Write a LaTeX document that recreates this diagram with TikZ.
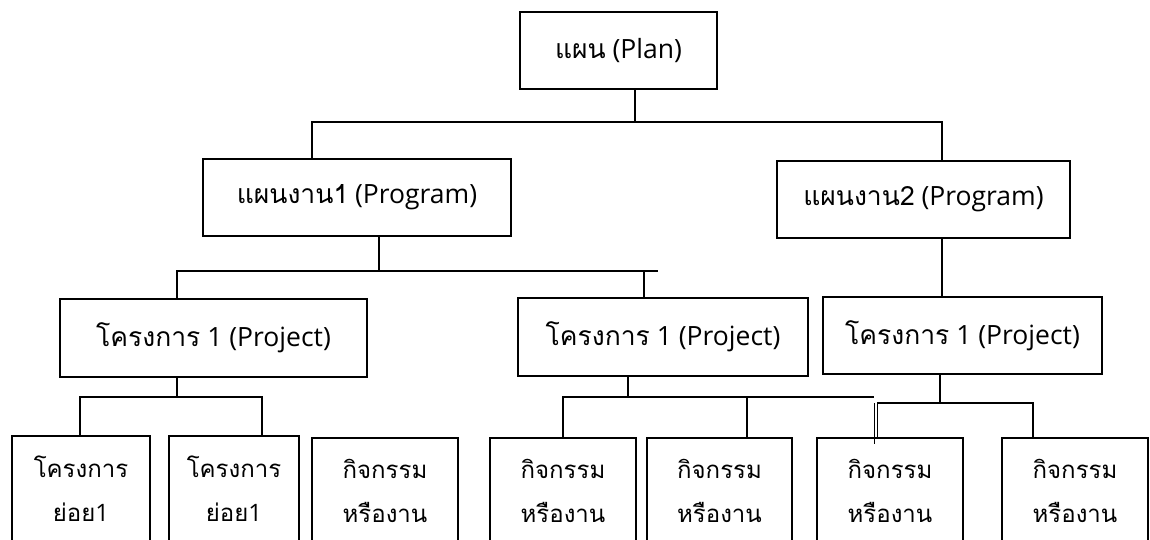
\documentclass[tikz,border=0pt]{standalone}
\usepackage{fontspec}
\setmainfont{Open Sans}
\newfontfamily\thaifont[Script=Thai]{Loma}
\newcommand\tha[1]{{\thaifont #1}}

\begin{document}
\begin{tikzpicture}[x=1pt,y=-1pt,line width=1.8pt,
  unit/.style={draw,rectangle,inner sep=0pt,minimum height=77pt,
    font=\fontsize{26.5}{30}\selectfont},
  leaf/.style={draw,rectangle,inner sep=0pt,minimum height=106pt,
    minimum width=146pt,align=center,font=\fontsize{24}{44}\selectfont}]
\clip (0,0) rectangle (1150,540);
\fill[white] (0,0) rectangle (1150,540);

% top level
\node[unit,minimum width=197pt] (plan) at (618.5,50.5) {\tha{แผน} (Plan)};

% programs
\node[unit,minimum width=308pt] (prog1) at (357,197.5) {\tha{แผนงาน1} (Program)};
\node[unit,minimum width=293pt] (prog2) at (923.5,199.5) {\tha{แผนงาน2} (Program)};

% projects
\node[unit,minimum width=307pt,minimum height=78pt] (proj1) at (213.5,338) {\tha{โครงการ} 1 (Project)};
\node[unit,minimum width=290pt,minimum height=78pt] (proj2) at (663,337) {\tha{โครงการ} 1 (Project)};
\node[unit,minimum width=279pt] (proj3) at (962.5,335.5) {\tha{โครงการ} 1 (Project)};

% sub-projects and activities
\node[leaf,minimum width=138pt,anchor=north] (l1) at (81,435) {\tha{โครงการ}\\\tha{ย่อย}1};
\node[leaf,minimum width=130pt,anchor=north] (l2) at (234,435) {\tha{โครงการ}\\\tha{ย่อย}1};
\node[leaf,anchor=north] (l3) at (385,437) {\tha{กิจกรรม}\\\tha{หรืองาน}};
\node[leaf,anchor=north] (l4) at (563,437) {\tha{กิจกรรม}\\\tha{หรืองาน}};
\node[leaf,minimum width=145pt,anchor=north] (l5) at (719.5,437) {\tha{กิจกรรม}\\\tha{หรืองาน}};
\node[leaf,anchor=north] (l6) at (890,437) {\tha{กิจกรรม}\\\tha{หรืองาน}};
\node[leaf,anchor=north] (l7) at (1075,437) {\tha{กิจกรรม}\\\tha{หรืองาน}};

% plan -> programs
\coordinate (a0) at (635,122);
\coordinate (a1) at (312,122);
\coordinate (a2) at (942,122);
\draw (plan.south -| a0) -- (a0);
\draw (prog1.north -| a1) -- (a1) -- (a2) -- (prog2.north -| a2);

% program 1 -> projects
\coordinate (b0) at (379,271);
\coordinate (b1) at (177,271);
\coordinate (b2) at (658,271);
\coordinate (b3) at (644,271);
\draw (prog1.south -| b0) -- (b0);
\draw (proj1.north -| b1) -- (b1) -- (b2);
\draw (b3) -- (proj2.north -| b3);

% program 2 -> project
\draw (prog2.south -| a2) -- (proj3.north -| a2);

% project 1 -> sub-projects
\coordinate (c0) at (177,397);
\coordinate (c1) at (80,397);
\coordinate (c2) at (262,397);
\draw (proj1.south -| c0) -- (c0);
\draw (l1.north -| c1) -- (c1) -- (c2) -- (l2.north -| c2);

% middle project -> activities
\coordinate (d0) at (628,397);
\coordinate (d1) at (563,397);
\coordinate (d2) at (874,397);
\coordinate (d3) at (747,397);
\draw (proj2.south -| d0) -- (d0);
\draw (l4.north -| d1) -- (d1) -- (d2);
\draw (d3) -- (l5.north -| d3);

% right project -> activities
\coordinate (e0) at (940,403);
\coordinate (e1) at (877.5,403);
\coordinate (e2) at (1033,403);
\coordinate (e3) at (874.5,403);
\coordinate (e4) at (874.5,444);
\draw (proj3.south -| e0) -- (e0);
\draw (l6.north -| e1) -- (e1) -- (e2) -- (l7.north -| e2);
\draw (e3) -- (e4);
\end{tikzpicture}
\end{document}
